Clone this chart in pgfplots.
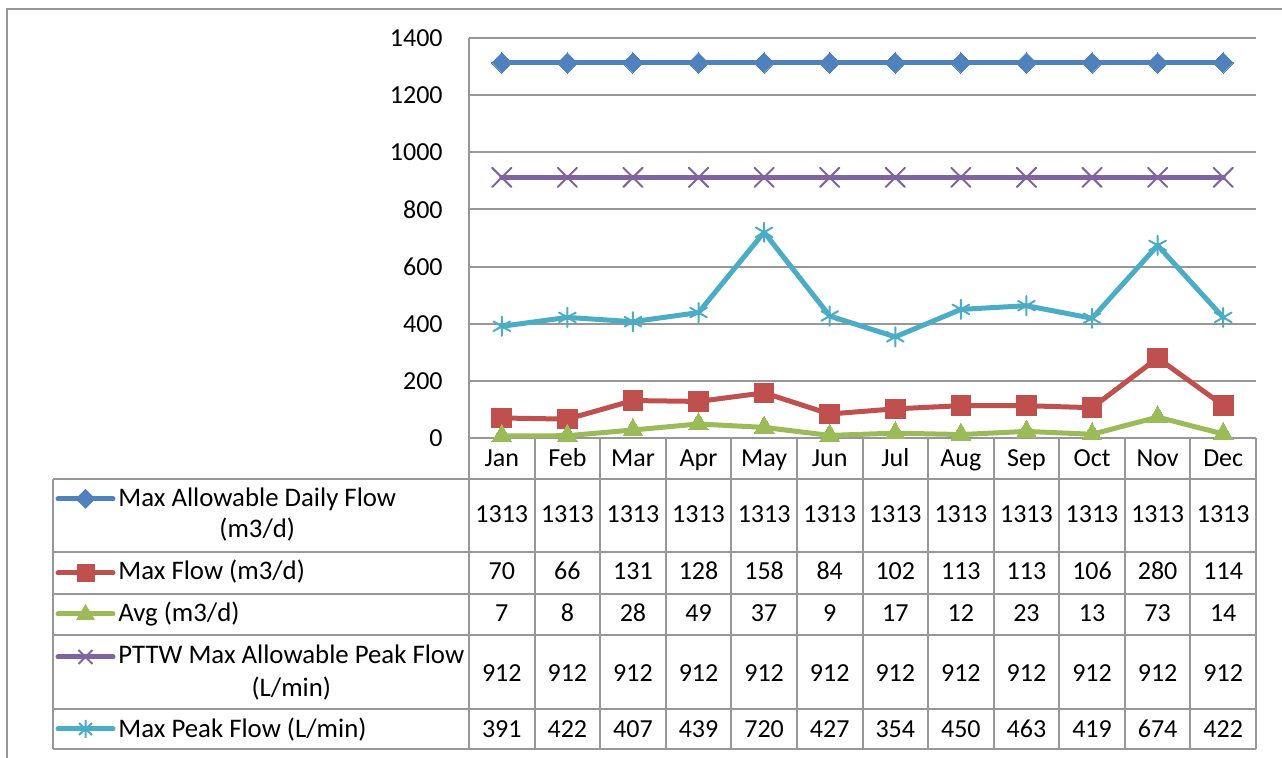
\documentclass[border=0pt]{standalone}
\usepackage{fontspec}
\setmainfont{Carlito}
\usepackage{pgfplots}
\pgfplotsset{compat=1.18}
\definecolor{cBlue}{HTML}{4F81BD}
\definecolor{cRed}{HTML}{C0504D}
\definecolor{cGreen}{HTML}{9BBB59}
\definecolor{cPurple}{HTML}{8064A2}
\definecolor{cCyan}{HTML}{4BACC6}
\definecolor{cGrid}{HTML}{979797}
\begin{document}
\begin{tikzpicture}[x=0.5pt,y=0.5pt,font=\fontsize{13}{15}\selectfont]
\useasboundingbox (0,0) rectangle (1282,758);
% outer frame
\draw[cGrid, line width=1pt] (7,0) -- (7,749) -- (1282,749);
% data table grid
\begin{scope}[draw=cGrid, line width=1pt]
\draw (469,720) -- (469,9);
\foreach \k in {1,...,12} \draw ({469+\k*65.583},320) -- ({469+\k*65.583},9);
\draw (53,279) -- (53,9);
\draw (469,320) -- (1256,320);
\foreach \Y in {279,206,164,123,49,9} \draw (53,\Y) -- (1256,\Y);
\end{scope}
\begin{axis}[
  at={(234.5pt,160pt)}, anchor=south west,
  scale only axis, width=393.5pt, height=200pt,
  xmin=0.5, xmax=12.5, ymin=0, ymax=1400,
  ytick={0,200,...,1400},
  xtick={1,...,12},
  xticklabels={Jan,Feb,Mar,Apr,May,Jun,Jul,Aug,Sep,Oct,Nov,Dec},
  axis lines=left, axis line style={draw=none,-},
  ymajorgrids, grid style={cGrid, line width=1pt},
  major tick length=0pt,
  tick label style={font=\fontsize{13}{15}\selectfont},
  yticklabel style={anchor=east, inner sep=0pt, xshift=-13pt},
  xticklabel style={anchor=base, inner sep=0pt, yshift=-14.5pt},
  /pgf/number format/assume math mode=true,
  /pgf/number format/1000 sep={},
  clip=false,
  every axis plot/.append style={line join=round, line cap=round},
]
\addplot[cBlue, line width=2.5pt, mark=square*, mark size=3.6pt, mark options={rotate=45, line width=0pt}]
  coordinates {(1,1313)(2,1313)(3,1313)(4,1313)(5,1313)(6,1313)(7,1313)(8,1313)(9,1313)(10,1313)(11,1313)(12,1313)};
\addplot[cRed, line width=2.5pt, mark=square*, mark size=4.9pt, mark options={line width=0pt}]
  coordinates {(1,70)(2,66)(3,131)(4,128)(5,158)(6,84)(7,102)(8,113)(9,113)(10,106)(11,280)(12,114)};
\addplot[cGreen, line width=2.5pt, mark=triangle*, mark size=5.7pt, mark options={line width=0pt}]
  coordinates {(1,7)(2,8)(3,28)(4,49)(5,37)(6,9)(7,17)(8,12)(9,23)(10,13)(11,73)(12,14)};
\addplot[cPurple, line width=2.5pt, mark=x, mark size=6.8pt, mark options={line width=1pt}]
  coordinates {(1,912)(2,912)(3,912)(4,912)(5,912)(6,912)(7,912)(8,912)(9,912)(10,912)(11,912)(12,912)};
\addplot[cCyan, line width=2.5pt, mark=asterisk, mark size=4.8pt, mark options={line width=1pt}]
  coordinates {(1,391)(2,422)(3,407)(4,439)(5,720)(6,427)(7,354)(8,450)(9,463)(10,419)(11,674)(12,422)};
\end{axis}
% legend keys in the table
\begin{scope}[line width=2.5pt, line cap=round]
\draw[cBlue] (58,259) -- (113,259);
\fill[cBlue] (85.5,249) -- (95.5,259) -- (85.5,269) -- (75.5,259) -- cycle;
\draw[cRed] (58,185) -- (113,185);
\fill[cRed] (76.5,176) rectangle (94.5,194);
\draw[cGreen] (58,144) -- (113,144);
\fill[cGreen] (76,138) -- (95,138) -- (85.5,154) -- cycle;
\draw[cPurple] (58,101) -- (113,101);
\draw[cPurple, line width=1pt, line cap=butt] (78.5,94) -- (92.5,108) (78.5,108) -- (92.5,94);
\draw[cCyan] (58,29) -- (113,29);
\draw[cCyan, line width=1pt, line cap=butt] (85.5,20) -- (85.5,38) (79,23) -- (92,35) (79,35) -- (92,23);
\end{scope}
% legend texts
\begin{scope}[font=\fontsize{13.4}{15}\selectfont]
\node[anchor=base west, inner sep=0pt] (a) at (118,251) {Max Allowable Daily Flow};
\node[anchor=base, inner sep=0pt, yshift=-15.5pt] at (a.base) {(m3/d)};
\node[anchor=base west, inner sep=0pt] at (118,178) {Max Flow (m3/d)};
\node[anchor=base west, inner sep=0pt] at (118,136) {Avg (m3/d)};
\node[anchor=base west, inner sep=0pt] (b) at (118,94) {PTTW Max Allowable Peak Flow};
\node[anchor=base, inner sep=0pt, yshift=-16.5pt] at (b.base) {(L/min)};
\node[anchor=base west, inner sep=0pt] at (118,20) {Max Peak Flow (L/min)};
\end{scope}
% table values
\foreach \v [count=\i] in {1313,1313,1313,1313,1313,1313,1313,1313,1313,1313,1313,1313}
  \node[anchor=base, inner sep=0pt] at ({469+(\i-0.5)*65.583},235) {\v};
\foreach \v [count=\i] in {70,66,131,128,158,84,102,113,113,106,280,114}
  \node[anchor=base, inner sep=0pt] at ({469+(\i-0.5)*65.583},178) {\v};
\foreach \v [count=\i] in {7,8,28,49,37,9,17,12,23,13,73,14}
  \node[anchor=base, inner sep=0pt] at ({469+(\i-0.5)*65.583},136) {\v};
\foreach \v [count=\i] in {912,912,912,912,912,912,912,912,912,912,912,912}
  \node[anchor=base, inner sep=0pt] at ({469+(\i-0.5)*65.583},76) {\v};
\foreach \v [count=\i] in {391,422,407,439,720,427,354,450,463,419,674,422}
  \node[anchor=base, inner sep=0pt] at ({469+(\i-0.5)*65.583},20) {\v};
\end{tikzpicture}
\end{document}
